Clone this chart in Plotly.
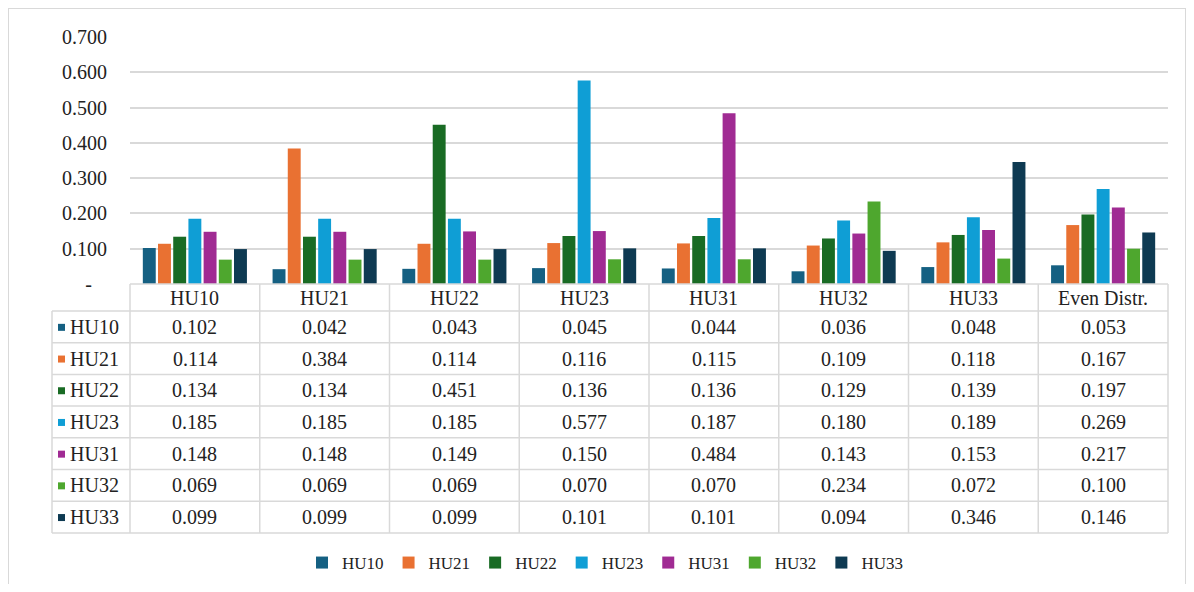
import plotly.graph_objects as go

categories = ["HU10", "HU21", "HU22", "HU23", "HU31", "HU32", "HU33", "Even Distr."]
series_names = ["HU10", "HU21", "HU22", "HU23", "HU31", "HU32", "HU33"]
hu10 = [0.102, 0.042, 0.043, 0.045, 0.044, 0.036, 0.048, 0.053]
hu21 = [0.114, 0.384, 0.114, 0.116, 0.115, 0.109, 0.118, 0.167]
hu22 = [0.134, 0.134, 0.451, 0.136, 0.136, 0.129, 0.139, 0.197]
hu23 = [0.185, 0.185, 0.185, 0.577, 0.187, 0.180, 0.189, 0.269]
hu31 = [0.148, 0.148, 0.149, 0.150, 0.484, 0.143, 0.153, 0.217]
hu32 = [0.069, 0.069, 0.069, 0.070, 0.070, 0.234, 0.072, 0.100]
hu33 = [0.099, 0.099, 0.099, 0.101, 0.101, 0.094, 0.346, 0.146]
series_values = [hu10, hu21, hu22, hu23, hu31, hu32, hu33]
colors = ["#156082", "#E97132", "#196B24", "#0F9ED5", "#A02B93", "#4EA72E", "#0E3A52"]
ytick_vals = [0, 0.1, 0.2, 0.3, 0.4, 0.5, 0.6, 0.7]
ytick_text = ["-\u00a0\u00a0\u00a0", "0.100", "0.200", "0.300", "0.400", "0.500", "0.600", "0.700"]

OFF = 8
W, H = 1194 - 2 * OFF, 592 - 2 * OFF
FONT = "Liberation Serif, Times New Roman, serif"
GRID = "#D9D9D9"
TXT = "#222222"
FS = 20

def px(x):
    return (x - OFF) / W

def py(y):
    return 1 - (y - OFF) / H

plot_left, plot_right = 130, 1168
plot_top, plot_bottom = 37, 284
table_left = 52
row_top = 311
row_h = 31.7

fig = go.Figure()
for name, vals, col in zip(series_names, series_values, colors):
    fig.add_trace(go.Bar(x=categories, y=vals, name=name, marker_color=col,
                         marker_line_width=0))

shapes = []
annotations = []
ncat = len(categories)
colw = (plot_right - plot_left) / ncat
line = dict(color=GRID, width=1.5)
for i in range(ncat + 1):
    x = plot_left + i * colw
    shapes.append(dict(type="line", xref="paper", yref="paper",
                       x0=px(x), x1=px(x), y0=py(plot_bottom), y1=py(row_top + row_h * 7),
                       line=line))
shapes.append(dict(type="line", xref="paper", yref="paper",
                   x0=px(table_left), x1=px(table_left), y0=py(row_top), y1=py(row_top + row_h * 7),
                   line=line))
shapes.append(dict(type="line", xref="paper", yref="paper",
                   x0=px(plot_left), x1=px(plot_right), y0=py(plot_bottom), y1=py(plot_bottom),
                   line=line))
for r in range(8):
    y = row_top + r * row_h
    shapes.append(dict(type="line", xref="paper", yref="paper",
                       x0=px(table_left), x1=px(plot_right), y0=py(y), y1=py(y),
                       line=line))
shapes.append(dict(type="rect", xref="paper", yref="paper",
                   x0=px(8), x1=px(1186), y0=py(620), y1=py(8),
                   line=dict(color=GRID, width=2)))

for i, c in enumerate(categories):
    annotations.append(dict(xref="paper", yref="paper", x=px(plot_left + (i + 0.5) * colw),
                            y=py((plot_bottom + row_top) / 2), text=c, showarrow=False,
                            font=dict(family=FONT, size=FS, color=TXT),
                            xanchor="center", yanchor="middle"))
for r, (name, vals, col) in enumerate(zip(series_names, series_values, colors)):
    yc = row_top + (r + 0.5) * row_h
    shapes.append(dict(type="rect", xref="paper", yref="paper",
                       x0=px(58), x1=px(65), y0=py(yc + 4), y1=py(yc - 3),
                       fillcolor=col, line=dict(width=0)))
    annotations.append(dict(xref="paper", yref="paper", x=px(68), y=py(yc), text=name,
                            showarrow=False, font=dict(family=FONT, size=FS, color=TXT),
                            xanchor="left", yanchor="middle"))
    for i, v in enumerate(vals):
        annotations.append(dict(xref="paper", yref="paper", x=px(plot_left + (i + 0.5) * colw),
                                y=py(yc), text=f"{v:.3f}", showarrow=False,
                                font=dict(family=FONT, size=FS, color=TXT),
                                xanchor="center", yanchor="middle"))

fig.update_layout(
    width=W, height=H, autosize=False,
    margin=dict(l=0, r=0, t=0, b=0, autoexpand=False),
    paper_bgcolor="white", plot_bgcolor="white",
    barmode="group", bargap=0.18, bargroupgap=0.15,
    xaxis=dict(domain=[px(plot_left), px(plot_right)], showticklabels=False,
               showgrid=False, zeroline=False, showline=False, ticks="", automargin=False),
    yaxis=dict(domain=[py(plot_bottom), py(plot_top)], range=[0, 0.7],
               tickvals=ytick_vals, ticktext=ytick_text, showgrid=True,
               gridcolor=GRID, gridwidth=1.5, zeroline=False, showline=False,
               ticks="", ticklabelstandoff=22, automargin=False,
               tickfont=dict(family=FONT, size=FS, color=TXT)),
    legend=dict(orientation="h", x=px(605), xanchor="center", y=py(563), yanchor="middle",
                font=dict(family=FONT, size=17, color=TXT),
                traceorder="normal"),
    shapes=shapes, annotations=annotations,
)

fig.write_html("out.html")
